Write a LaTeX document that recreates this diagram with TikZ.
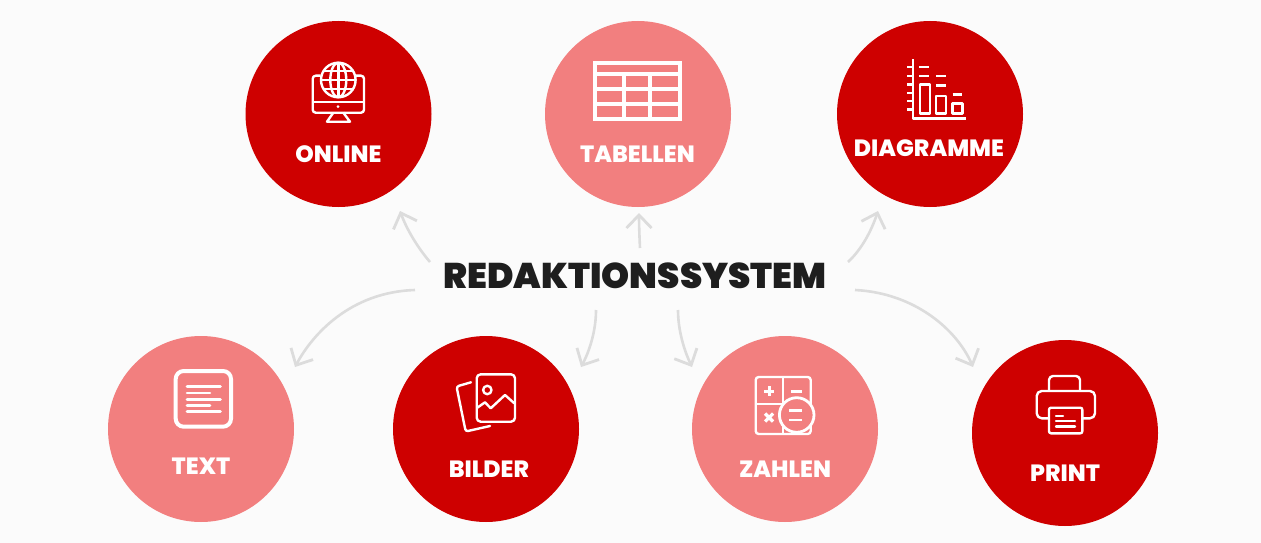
\documentclass[tikz,border=0pt]{standalone}
\usepackage{fontspec}
\usetikzlibrary{arrows.meta}
\newfontfamily\popb{Poppins}[UprightFont=* Black]
\newfontfamily\poplab{Poppins}[UprightFont=* ExtraBold]
\definecolor{bgc}{HTML}{FBFBFB}
\definecolor{redc}{HTML}{CE0000}
\definecolor{pinkc}{HTML}{F27F7F}
\definecolor{linkc}{HTML}{DCDCDC}
\definecolor{inkc}{HTML}{1E1E1E}
\tikzset{
  x=1pt,y=-1pt,
  disc/.style={circle,minimum size=186pt,inner sep=0pt,draw=none},
  reddisc/.style={disc,fill=redc},
  pinkdisc/.style={disc,fill=pinkc},
  lab/.style={text=white,inner sep=0pt,font=\poplab\fontsize{23.5}{24}\selectfont},
  title/.style={text=inkc,inner sep=0pt,font=\popb\fontsize{35.7}{38}\selectfont},
  link/.style={draw=linkc,line width=2.6pt,-{Straight Barb[length=13pt,width=25pt,line width=2.8pt]}},
  ico/.style={draw=white,line width=2.4pt,line join=round},
  icoR/.style={ico,line cap=round},
}
\begin{document}
\begin{tikzpicture}
\useasboundingbox (0,0) rectangle (1261,543);
\fill[bgc] (0,0) rectangle (1261,543);
% discs
\node[reddisc] (online) at (338.5,114) {};
\node[pinkdisc] (tabellen) at (638,114) {};
\node[reddisc] (diagramme) at (930,114) {};
\node[pinkdisc] (text) at (201,429) {};
\node[reddisc] (bilder) at (486,429) {};
\node[pinkdisc] (zahlen) at (785,429) {};
\node[reddisc] (print) at (1065,433) {};
% labels
\node[lab] (lonline) at (338.5,154) {ONLINE};
\node[lab] (ltabellen) at (637.5,154) {TABELLEN};
\node[lab] (ldiagramme) at (929,148) {DIAGRAMME};
\node[lab] (ltext) at (201,466) {TEXT};
\node[lab] (lbilder) at (489,469) {BILDER};
\node[lab] (lzahlen) at (785,469) {ZAHLEN};
\node[lab] (lprint) at (1065,473) {PRINT};
\node[title] (sys) at (635,276) {REDAKTIONSSYSTEM};
% connector ends
\coordinate (s1) at (430,262); \coordinate (t1) at (400,211);
\coordinate (s2) at (640,248); \coordinate (t2) at (639,213);
\coordinate (s3) at (848,262); \coordinate (t3) at (878,211);
\coordinate (s4) at (415,290); \coordinate (t4) at (295,367);
\coordinate (s5) at (596,310); \coordinate (t5) at (581,367);
\coordinate (s6) at (678,310); \coordinate (t6) at (692,367);
\coordinate (s7) at (855,290); \coordinate (t7) at (973,367);
\draw[link] (s1) .. controls (418,248) and (407,230) .. (t1);
\draw[link] (s2) .. controls (639.5,238) and (639,225) .. (t2);
\draw[link] (s3) .. controls (861,250) and (871,232) .. (t3);
\draw[link] (s4) .. controls (350,292) and (312,335) .. (t4);
\draw[link] (s5) .. controls (596,330) and (590,350) .. (t5);
\draw[link] (s6) .. controls (678,330) and (684,350) .. (t6);
\draw[link] (s7) .. controls (915,293) and (957,330) .. (t7);
% online icon
\draw[ico,rounded corners=3pt] (320.7,75.7) -- (312.7,75.7) -- (312.7,112.7) -- (364,112.7) -- (364,75.7) -- (356,75.7);
\draw[ico] (312.7,101.7) -- (364,101.7);
\fill[white] (338,106.7) circle (1.5);
\draw[ico] (333.3,112.7) -- (327,121.7) -- (350,121.7) -- (343.3,112.7);
\draw[ico] (338.3,80) circle (17.3);
\draw[ico] (338.3,80) ellipse (8 and 17.3);
\draw[ico] (338.3,62.7) -- (338.3,97.3);
\draw[ico] (321,80) -- (355.6,80);
\draw[ico] (323.5,71) -- (353,71);
\draw[ico] (323.5,89) -- (353,89);
% tabellen icon
\draw[draw=white,line width=3.8pt] (594.7,63) rectangle (680,119);
\draw[draw=white,line width=3.8pt] (594.7,74) -- (680,74) (594.7,89) -- (680,89) (594.7,104) -- (680,104);
\draw[draw=white,line width=3.8pt] (624.3,74) -- (624.3,119) (650.3,74) -- (650.3,119);
% diagramme icon
\draw[ico] (912.7,59.3) -- (912.7,118.3) -- (966,118.3);
\draw[ico] (907.3,67.3) -- (912.7,67.3) (907.3,76) -- (912.7,76) (907.3,84.3) -- (912.7,84.3) (907.3,92.7) -- (912.7,92.7) (907.3,101) -- (912.7,101) (907.3,109.3) -- (912.7,109.3);
\draw[ico] (920,84.3) rectangle (930,113.3);
\draw[ico] (936,95.7) rectangle (946,113.3);
\draw[ico] (952.5,103.3) rectangle (962.3,113.3);
\draw[ico] (919.3,67.3) -- (929,67.3) (919.3,76) -- (929,76);
\draw[ico] (936,76.3) -- (945.5,76.3) (936,85.5) -- (945.5,85.5);
\draw[ico] (952.7,94.3) -- (962,94.3);
% text icon
\draw[draw=white,line width=4pt,rounded corners=8pt] (175.7,371) rectangle (231,426.7);
\draw[icoR,line width=2.6pt] (187,386.7) -- (220.5,386.7) (187,392.8) -- (210,392.8) (187,399.3) -- (220.5,399.3) (187,405.3) -- (210,405.3) (187,411.3) -- (220.5,411.3);
% bilder icon
\draw[icoR,rounded corners=2.5pt] (471,382.3) -- (456.5,386.5) -- (465.7,431.5) -- (490,426);
\draw[ico,rounded corners=4pt] (476.7,374.3) rectangle (515,421.7);
\draw[ico] (487.3,390) circle (4.2);
\draw[icoR] (477.3,407.7) -- (485,402.3) -- (490.7,408.3) -- (505,395) -- (514.3,403.3);
% zahlen icon
\draw[ico,rounded corners=3pt] (755.7,377) rectangle (810.7,434);
\draw[ico] (782.7,377) -- (782.7,434) (755.7,404) -- (810.7,404);
\draw[draw=white,line width=2.8pt,fill=pinkc] (796.7,415) circle (17.3);
\draw[draw=white,line width=3pt] (764,391) -- (774,391) (769,386) -- (769,396);
\draw[draw=white,line width=3pt] (791,391) -- (802.3,391);
\draw[draw=white,line width=3.2pt] (765,413.5) -- (773,421.5) (773,413.5) -- (765,421.5);
\draw[draw=white,line width=2.8pt] (789,410.7) -- (802.3,410.7) (789,420) -- (802.3,420);
% print icon
\draw[ico,rounded corners=4pt] (1049,391) -- (1049,376) -- (1080,376) -- (1080,391);
\draw[ico,rounded corners=5pt] (1049,418.3) -- (1036.7,418.3) -- (1036.7,391) -- (1095,391) -- (1095,418.3) -- (1082.3,418.3);
\draw[ico,rounded corners=2pt,fill=redc] (1049,407.7) rectangle (1082.3,433.3);
\draw[icoR] (1056,415.7) -- (1063,415.7) (1056,421) -- (1075,421) (1056,426.3) -- (1075,426.3);
\end{tikzpicture}
\end{document}
